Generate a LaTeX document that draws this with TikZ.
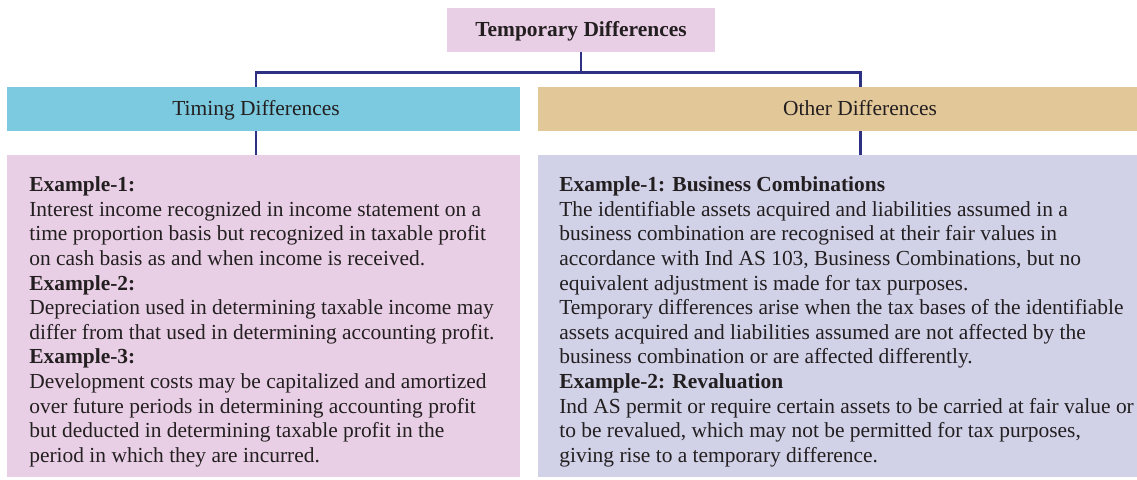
\documentclass[tikz,border=0pt]{standalone}
\usepackage{fontspec}
\setmainfont{Liberation Serif}
\usepackage{xcolor}
\definecolor{tdpink}{HTML}{E9CFE6}
\definecolor{tdcyan}{HTML}{7BCADF}
\definecolor{tdtan}{HTML}{E2C798}
\definecolor{tdlav}{HTML}{D1D1E8}
\definecolor{tdnavy}{HTML}{2E3083}
\definecolor{tdtext}{HTML}{231F20}
\newcommand{\tdfont}{\fontsize{12.2}{14}\selectfont}

\begin{document}
\begin{tikzpicture}[every node/.style={font=\tdfont, text=tdtext, inner sep=0pt},
    headbox/.style={minimum height=0.88cm, text height=0.34cm, text depth=0.06cm},
    bodybox/.style={minimum height=6.44cm},
    link/.style={draw=tdnavy, line width=1.7pt}]
  \useasboundingbox (0,0) rectangle (22.74,9.58);
  % boxes
  \node[headbox, fill=tdpink, minimum width=5.36cm, font=\tdfont\bfseries] (top) at (11.62,8.98) {Temporary Differences};
  \node[headbox, fill=tdcyan, minimum width=10.26cm] (timing) at (5.27,7.40) {Timing Differences\hspace*{0.3cm}};
  \node[headbox, fill=tdtan, minimum width=12.88cm] (other) at (17.20,7.40) {Other Differences};
  \node[bodybox, fill=tdpink, minimum width=10.26cm] (tbody) at (5.27,3.26) {};
  \node[bodybox, fill=tdlav, minimum width=12.88cm] (obody) at (17.20,3.26) {};
  % texts
  \node[anchor=north west, align=left] (ttext) at (0.58,6.05) {\textbf{Example-1:}\\
    Interest income recognized in income statement on a\\
    time proportion basis but recognized in taxable profit\\
    on cash basis as and when income is received.\\
    \textbf{Example-2:}\\
    Depreciation used in determining taxable income may\\
    differ from that used in determining accounting profit.\\
    \textbf{Example-3:}\\
    Development costs may be capitalized and amortized\\
    over future periods in determining accounting profit\\
    but deducted in determining taxable profit in the\\
    period in which they are incurred.};
  \node[anchor=north west, align=left] (otext) at (11.18,6.05) {\textbf{Example-1: Business Combinations}\\
    The identifiable assets acquired and liabilities assumed in a\\
    business combination are recognised at their fair values in\\
    accordance with Ind AS 103, Business Combinations, but no\\
    equivalent adjustment is made for tax purposes.\\
    Temporary differences arise when the tax bases of the identifiable\\
    assets acquired and liabilities assumed are not affected by the\\
    business combination or are affected differently.\\
    \textbf{Example-2: Revaluation}\\
    Ind AS permit or require certain assets to be carried at fair value or\\
    to be revalued, which may not be permitted for tax purposes,\\
    giving rise to a temporary difference.};
  % connectors
  \coordinate (split) at ([yshift=-0.4cm]top.south);
  \draw[link] (top.south) -- (split);
  \draw[link] ([xshift=-0.15cm]timing.north) |- (split) -| (other.north);
  \draw[link] ([xshift=-0.15cm]timing.south) -- ([xshift=-0.15cm]tbody.north);
  \draw[link] (other.south) -- (obody.north);
\end{tikzpicture}
\end{document}
